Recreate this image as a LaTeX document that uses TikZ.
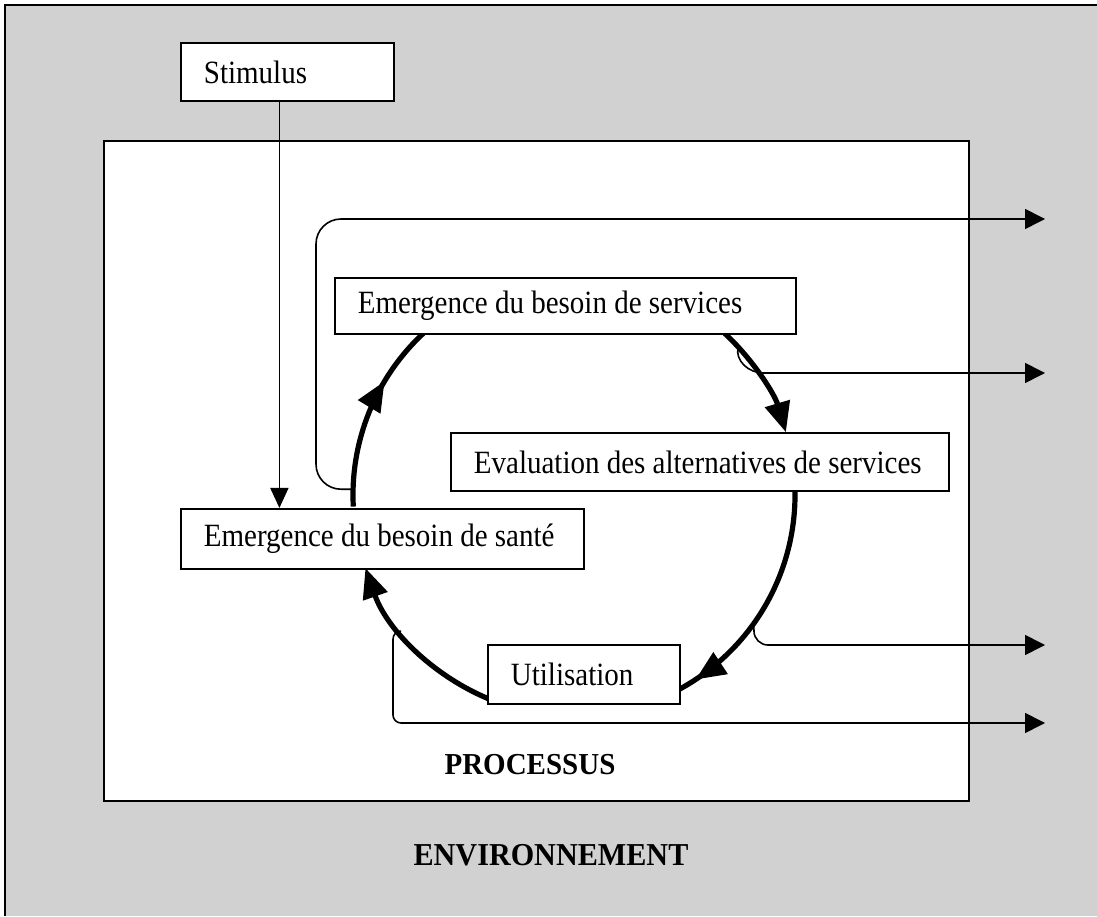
\documentclass[tikz,border=0pt]{standalone}
\usepackage{fontspec}
\setmainfont{Liberation Serif}
\usetikzlibrary{arrows.meta,decorations.markings}
\tikzset{
  box/.style={draw, line width=1.8pt, fill=white, anchor=north west, inner xsep=23pt, inner ysep=0pt, font=\fontsize{29}{34}\selectfont},
  bigtip/.style={-{Triangle[length=30pt,width=25pt]}},
  thickarc/.style={line width=5.2pt},
  thinline/.style={line width=1.6pt},
  outarrow/.style={thinline, -{Triangle[length=20pt,width=20pt]}},
  midarrow/.style={postaction={decorate, decoration={markings, mark=at position #1 with {\arrow{Triangle[length=30pt,width=25pt]}}}}},
  lbl/.style={font=\fontsize{29}{34}\selectfont\bfseries}
}
\newcommand{\boxtext}[2]{\makebox[#1][l]{\scalebox{1}[1.12]{#2}}}
\begin{document}
\begin{tikzpicture}[x=1pt,y=1pt]
\useasboundingbox (0,0) rectangle (1097,916);
% environment background and frame
\fill[black!18] (5,0) rectangle (1097,911);
\draw[line width=2pt] (5,0) -- (5,911) -- (1097,911);
% process box
\node[draw, line width=2.2pt, fill=white, anchor=north west, minimum width=865pt, minimum height=660pt, inner sep=0pt] (proc) at (103,776) {};
\node[lbl] (proclbl) at (530,151) {\scalebox{1}[1.05]{PROCESSUS}};
\node[lbl] (envlbl) at (551,61) {\scalebox{1.04}[1.1]{ENVIRONNEMENT}};
% circle centre
\coordinate (C) at (574,421);
% thick cycle arcs
\draw[thickarc, midarrow=0.68] ([shift={(183:221)}]C) arc[start angle=183, end angle=133, radius=221];
\draw[thickarc, bigtip] ([shift={(47:221)}]C) arc[start angle=47, end angle=16.5, radius=221];
\draw[thickarc, midarrow=0.89] ([shift={(3:221)}]C) arc[start angle=3, end angle=-64, radius=221];
\draw[thickarc, bigtip] ([shift={(250:221)}]C) arc[start angle=250, end angle=199.3, radius=221];
% feedback points
\coordinate (p1) at ([shift={(178.5:221)}]C);
\coordinate (p2) at ([shift={(42:221)}]C);
\coordinate (p3) at ([shift={(-35.5:221)}]C);
\coordinate (p4) at ([shift={(218:221)}]C);
\coordinate (o1) at (1045,697);
\coordinate (o2) at (1045,543);
\coordinate (o3) at (1045,271);
\coordinate (o4) at (1045,193);
\coordinate (k1) at (316,697);
\coordinate (k2) at (763,543);
\coordinate (k3) at (754,271);
\coordinate (k4) at (393,193);
\draw[outarrow, rounded corners=25pt] (p1) -- (p1 -| k1) -- (k1) -- (o1);
\draw[outarrow] (p2) to[out=-105,in=180] (k2) -- (o2);
\draw[outarrow, rounded corners=14pt] (p3) -- (k3) -- (o3);
\draw[outarrow, rounded corners=8pt] (p4) -- (p4 -| k4) -- (k4) -- (o4);
% boxes
\node[box, minimum height=58pt] (stim) at (180,874) {\boxtext{167pt}{Stimulus}};
\node[box, minimum height=56pt] (serv) at (334,639) {\boxtext{415pt}{Emergence du besoin de services}};
\node[box, minimum height=58pt] (eval) at (450,484) {\boxtext{452pt}{Evaluation des alternatives de services}};
\node[box, minimum height=60pt] (sante) at (180,408) {\boxtext{357pt}{Emergence du besoin de santé}};
\node[box, minimum height=59pt] (util) at (487,272) {\boxtext{146pt}{Utilisation}};
% stimulus arrow
\draw[thinline, -{Triangle[length=20pt,width=18pt]}] ([xshift=-8pt]stim.south) -- ([xshift=-8pt]stim.south |- sante.north);
\end{tikzpicture}
\end{document}
